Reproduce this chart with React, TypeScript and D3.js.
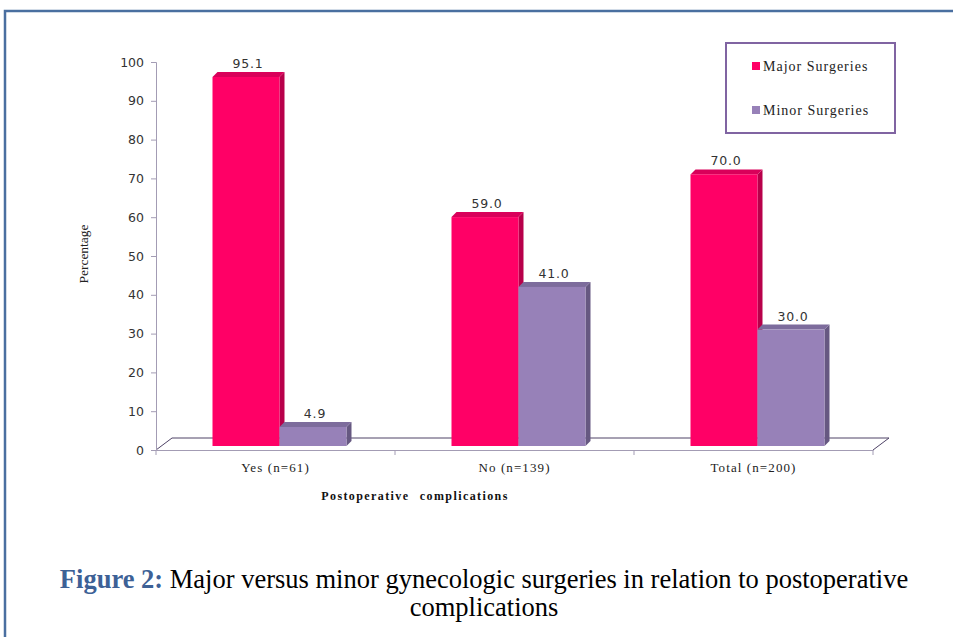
import { useRef, useEffect } from "react";
import * as d3 from "d3";

const categories = ["Yes (n=61)", "No (n=139)", "Total (n=200)"];
const seriesNames = ["Major Surgeries", "Minor Surgeries"];
const majorValues = [95.1, 59.0, 70.0];
const minorValues = [4.9, 41.0, 30.0];
const yTicks = [0, 10, 20, 30, 40, 50, 60, 70, 80, 90, 100];

const COLORS: Record<string, { front: string; side: string; top: string }> = {
  "Major Surgeries": { front: "#ff0066", side: "#b8004a", top: "#d9005a" },
  "Minor Surgeries": { front: "#9781b8", side: "#665881", top: "#7d6c9c" },
};

export default function App() {
  const svgRef = useRef<SVGSVGElement>(null);

  useEffect(() => {
    if (!svgRef.current) return;
    const svg = d3.select(svgRef.current);
    svg.selectAll("*").remove();

    const width = 953;
    const height = 637;
    const left = 156;
    const right = 873;
    const top = 62;
    const bottom = 450;
    // floor depth and bar extrusion
    const fdx = 16;
    const fdy = 12;
    const bdx = 4;
    const bdy = 4;
    const ex = 5;
    const ey = 5;
    const serif = "'Liberation Serif', 'Times New Roman', serif";
    const sans = "'DejaVu Sans', Verdana, sans-serif";

    svg.attr("width", width).attr("height", height);

    // page frame
    svg
      .append("path")
      .attr("d", `M5,${height} L5,11 L${width},11`)
      .attr("fill", "none")
      .attr("stroke", "#4a6fa0")
      .attr("stroke-width", 2.5);

    const x0 = d3.scaleBand().domain(categories).range([left, right]);
    const pairW = 134;
    const x1 = d3
      .scaleBand()
      .domain(seriesNames)
      .range([(x0.bandwidth() - pairW) / 2, (x0.bandwidth() + pairW) / 2]);
    const y = d3.scaleLinear().domain([0, 100]).range([bottom, top]);

    // floor
    const floor = `M${left},${bottom} L${left + fdx},${bottom - fdy} L${right + fdx},${bottom - fdy} L${right},${bottom}`;
    svg.append("path").attr("d", floor + " Z").attr("fill", "#fff");
    svg
      .append("path")
      .attr("d", floor)
      .attr("fill", "none")
      .attr("stroke", "#4e4266")
      .attr("stroke-width", 1);

    // y axis
    const yAxis = svg
      .append("g")
      .attr("transform", `translate(${left},0)`)
      .call(
        d3
          .axisLeft(y)
          .tickValues(yTicks)
          .tickSize(5)
          .tickPadding(7)
          .tickFormat((d) => String(d)),
      );
    yAxis.select(".domain").attr("stroke", "#a39cb4");
    yAxis.selectAll(".tick line").attr("stroke", "#a39cb4");
    yAxis
      .selectAll("text")
      .style("font-family", sans)
      .style("font-size", "12.5px")
      .attr("fill", "#333");

    // x axis
    const xAxis = svg
      .append("g")
      .attr("transform", `translate(0,${bottom})`)
      .call(d3.axisBottom(x0).tickSize(0).tickPadding(13).tickSizeOuter(0));
    xAxis.select(".domain").attr("stroke", "#a39cb4");
    xAxis
      .selectAll("text")
      .style("font-family", serif)
      .style("font-size", "13px")
      .style("letter-spacing", "1.1px")
      .attr("fill", "#222");
    const bounds = [...categories.map((c) => x0(c)!), right];
    xAxis
      .selectAll("line.bound")
      .data(bounds)
      .join("line")
      .attr("class", "bound")
      .attr("x1", (d) => d)
      .attr("x2", (d) => d)
      .attr("y1", 0)
      .attr("y2", 5)
      .attr("stroke", "#a39cb4");

    // bars
    const rows = categories.map((c, i) => ({
      cat: c,
      vals: [majorValues[i], minorValues[i]],
    }));
    rows.forEach((r) => {
      seriesNames.forEach((s, j) => {
        const v = r.vals[j];
        const c = COLORS[s];
        const bx = x0(r.cat)! + x1(s)! + bdx;
        const bw = x1.bandwidth();
        const by = y(v) - bdy;
        const bb = y(0) - bdy;
        const g = svg.append("g");
        g.append("path")
          .attr(
            "d",
            `M${bx + bw},${by} L${bx + bw + ex},${by - ey} L${bx + bw + ex},${bb - ey} L${bx + bw},${bb} Z`,
          )
          .attr("fill", c.side);
        g.append("path")
          .attr(
            "d",
            `M${bx},${by} L${bx + ex},${by - ey} L${bx + bw + ex},${by - ey} L${bx + bw},${by} Z`,
          )
          .attr("fill", c.top);
        g.append("rect")
          .attr("x", bx)
          .attr("y", by)
          .attr("width", bw)
          .attr("height", bb - by)
          .attr("fill", c.front);
        g.append("text")
          .attr("x", bx + bw / 2 + 2)
          .attr("y", by - ey - 4)
          .attr("text-anchor", "middle")
          .style("font-family", sans)
          .style("font-size", "12.5px")
          .style("letter-spacing", "0.8px")
          .attr("fill", "#333")
          .text(v.toFixed(1));
      });
    });

    // axis titles
    svg
      .append("text")
      .attr("transform", "rotate(-90)")
      .attr("x", -254)
      .attr("y", 88)
      .attr("text-anchor", "middle")
      .style("font-family", serif)
      .style("font-size", "13.5px")
      .attr("fill", "#222")
      .text("Percentage");
    svg
      .append("text")
      .attr("x", 415)
      .attr("y", 500)
      .attr("text-anchor", "middle")
      .style("font-family", serif)
      .style("font-size", "12px")
      .style("font-weight", "bold")
      .style("word-spacing", "6px")
      .style("letter-spacing", "1.4px")
      .attr("fill", "#111")
      .text("Postoperative complications");

    // legend
    const leg = svg.append("g").attr("transform", "translate(726,43)");
    leg
      .append("rect")
      .attr("width", 169)
      .attr("height", 90)
      .attr("fill", "#fff")
      .attr("stroke", "#8064a2")
      .attr("stroke-width", 2);
    seriesNames.forEach((s, i) => {
      leg
        .append("rect")
        .attr("x", 26)
        .attr("y", 19 + i * 44)
        .attr("width", 8)
        .attr("height", 8)
        .attr("fill", COLORS[s].front);
      leg
        .append("text")
        .attr("x", 37)
        .attr("y", 28 + i * 44)
        .style("font-family", serif)
        .style("font-size", "14px")
        .style("letter-spacing", "1px")
        .attr("fill", "#222")
        .text(s);
    });

    // caption
    const cap = svg
      .append("text")
      .attr("x", 484)
      .attr("y", 588)
      .attr("text-anchor", "middle")
      .style("font-family", serif)
      .style("font-size", "26.5px")
      .attr("fill", "#000");
    cap
      .append("tspan")
      .style("font-weight", "bold")
      .attr("fill", "#3d6196")
      .text("Figure 2:");
    cap
      .append("tspan")
      .text(" Major versus minor gynecologic surgeries in relation to postoperative");
    svg
      .append("text")
      .attr("x", 484)
      .attr("y", 616)
      .attr("text-anchor", "middle")
      .style("font-family", serif)
      .style("font-size", "26.5px")
      .attr("fill", "#000")
      .text("complications");

    return () => {
      svg.selectAll("*").remove();
    };
  }, []);

  return (
    <svg
      ref={svgRef}
      style={{ position: "absolute", left: 0, top: 0, background: "#fff" }}
    />
  );
}
